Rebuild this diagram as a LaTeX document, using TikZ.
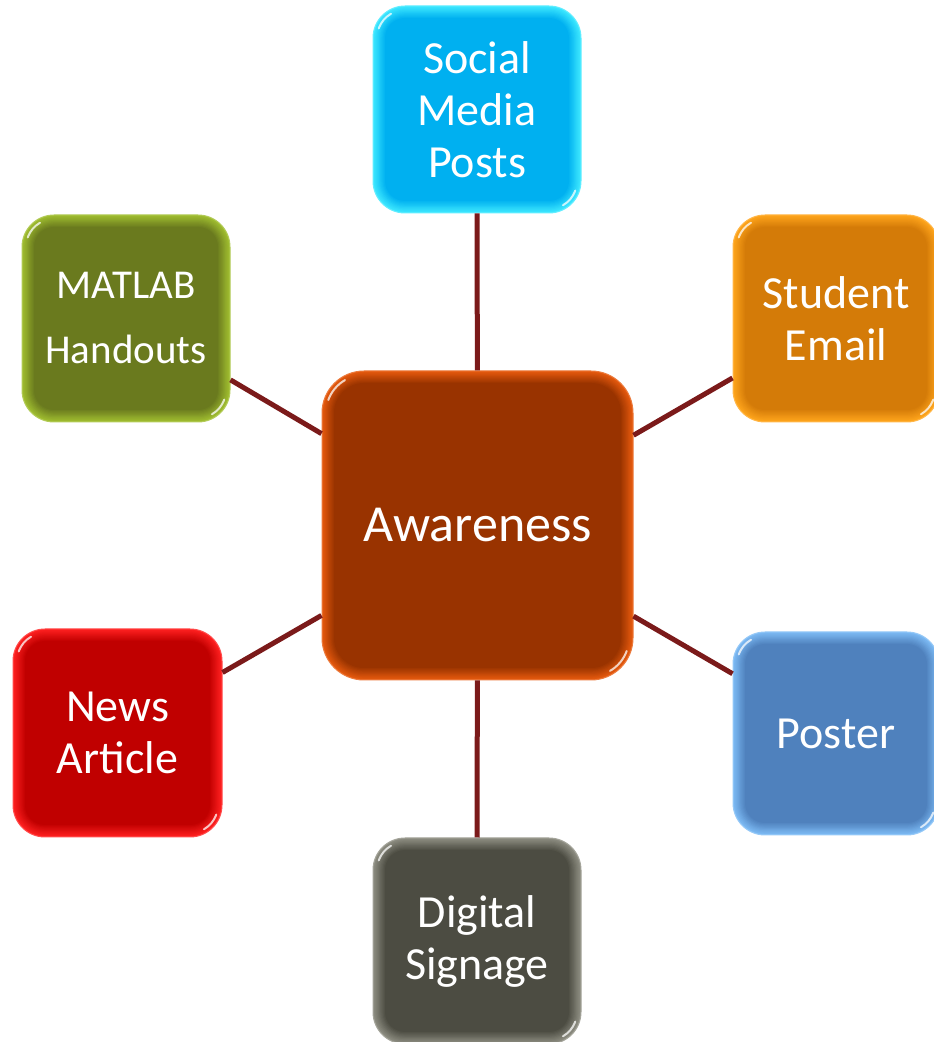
\documentclass[tikz,border=0pt]{standalone}
\usepackage{fontspec}
\setmainfont{Carlito}
\usetikzlibrary{calc}
\definecolor{linkc}{HTML}{7B1A1A}
\definecolor{cenL}{HTML}{E65A0E}\definecolor{cenD}{HTML}{993300}
\definecolor{socL}{HTML}{3DE8FF}\definecolor{socD}{HTML}{00B0F0}
\definecolor{matL}{HTML}{A0BE30}\definecolor{matD}{HTML}{6A7A1E}
\definecolor{stuL}{HTML}{FFA51C}\definecolor{stuD}{HTML}{D47B08}
\definecolor{newL}{HTML}{FF2020}\definecolor{newD}{HTML}{C00000}
\definecolor{posL}{HTML}{7DBBF5}\definecolor{posD}{HTML}{4F81BD}
\definecolor{digL}{HTML}{8E8E82}\definecolor{digD}{HTML}{4C4C42}
\tikzset{
  x=1pt, y=1pt,
  box/.style={align=center, text=white, inner sep=0pt,
    font=\fontsize{46}{52}\selectfont},
  bevel/.style n args={3}{rounded corners=#3pt, fill=#1, draw=#1!80!white, line width=1pt,
    path picture={
      \foreach \i in {1,...,10}{
        \pgfmathsetmacro\pc{\i*10}
        \pgfmathsetmacro\rr{#3-\i*1.2}
        \fill[fill=#2!\pc!#1, rounded corners=\rr pt]
          ($(path picture bounding box.south west)+(\i*1.2,\i*1.2)$) rectangle
          ($(path picture bounding box.north east)-(\i*1.2,\i*1.2)$);
      }
      \coordinate (pnw) at (path picture bounding box.south west |- path picture bounding box.north east);
      \coordinate (pse) at (path picture bounding box.north east |- path picture bounding box.south west);
      \draw[white, opacity=0.75, line width=2pt, line cap=round]
        ($(pnw)+(#3,-#3)+(160:#3-4)$) arc[start angle=160, end angle=120, radius=#3-4];
      \draw[white, opacity=0.75, line width=2pt, line cap=round]
        ($(pse)+(-#3,#3)+(-20:#3-4)$) arc[start angle=-20, end angle=-60, radius=#3-4];
    }},
  link/.style={draw=linkc, line width=5pt}
}
\begin{document}
\begin{tikzpicture}
\useasboundingbox (0,0) rectangle (934,1042);
\node[box, bevel={cenL}{cenD}{42}, minimum width=311pt, minimum height=309pt,
  font=\fontsize{52}{58}\selectfont] (cen) at (477.5,516.5) {Awareness};
\node[box, bevel={socL}{socD}{32}, minimum width=208pt, minimum height=207pt] (soc) at (477,932.5) {Social\\Media\\Posts};
\node[box, bevel={matL}{matD}{32}, minimum width=208pt, minimum height=207pt,
  font=\fontsize{41}{65}\selectfont] (mat) at (126,723.5) {MATLAB\\Handouts};
\node[box, bevel={stuL}{stuD}{32}, minimum width=206pt, minimum height=207pt] (stu) at (836,723.5) {Student\\Email};
\node[box, bevel={newL}{newD}{32}, minimum width=209pt, minimum height=208pt] (new) at (117.5,309) {News\\Article};
\node[box, bevel={posL}{posD}{32}, minimum width=206pt, minimum height=203pt] (pos) at (836,308.5) {Poster};
\node[box, bevel={digL}{digD}{32}, minimum width=208pt, minimum height=206pt] (dig) at (477,101) {Digital\\Signage};
\draw[link] (cen) -- (soc);
\draw[link] (cen) -- (mat);
\draw[link] (cen) -- (stu);
\draw[link] (cen) -- (new);
\draw[link] (cen) -- (pos);
\draw[link] (cen) -- (dig);
\end{tikzpicture}
\end{document}
